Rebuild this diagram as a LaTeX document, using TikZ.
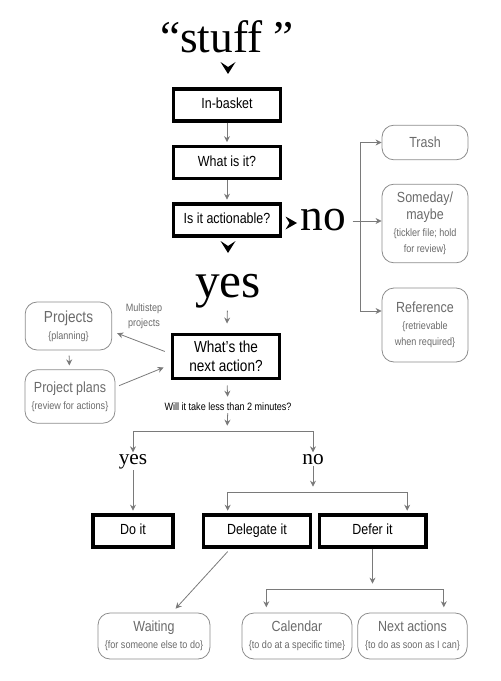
\documentclass[tikz,border=0pt]{standalone}
\usepackage{fontspec}
\setmainfont[FakeStretch=0.85]{Liberation Sans}
\newfontfamily\bigserif{Liberation Serif}
\usetikzlibrary{arrows.meta}
\definecolor{boxgray}{HTML}{8C8C8C}
\definecolor{textgray}{HTML}{6A6A6A}
\definecolor{linegray}{HTML}{7A7A7A}
\newcommand{\subnote}[1]{{\fontsize{8}{12.5}\selectfont #1}}
\tikzset{
  actbox/.style={draw=black, line width=2.5pt, minimum width=80pt, minimum height=24pt, align=center, font=\fontsize{11}{13}\selectfont},
  onebox/.style={actbox, text height=8pt, text depth=2.3pt},
  listbox/.style={draw=boxgray, line width=0.6pt, rounded corners=9pt, text=textgray, align=center, inner sep=2pt, minimum width=64.5pt, font=\fontsize{11}{12.5}\selectfont},
  link/.style={draw=linegray, line width=0.6pt, -{Stealth[length=4.5pt,width=4.5pt]}},
  bigword/.style={font=\bigserif\fontsize{34}{34}\selectfont, anchor=base, inner sep=0pt},
  midword/.style={font=\bigserif\fontsize{16}{16}\selectfont, anchor=base, inner sep=1pt},
  chevdown/.pic={\fill (-7.5,-6) -- (0,6) -- (7.5,-6) -- (0,-1) -- cycle;},
  chevright/.pic={\fill (-5.5,-6.5) -- (6,0) -- (-5.5,6.5) -- (-1.5,0) -- cycle;}
}
\begin{document}
\begin{tikzpicture}[x=0.75pt,y=-0.75pt]
  \useasboundingbox (0,0) rectangle (500,681);
  % 
  \node[bigword] (stuff) at (227,53) {“stuff ”};
  \pic at (228,68) {chevdown};
  \node[onebox] (inbasket) at (227,105) {In-basket};
  \node[onebox] (whatis) at (227,162.5) {What is it?};
  \node[onebox] (actionable) at (227,220) {Is it actionable?};
  \pic at (291,223) {chevright};
  \node[bigword] (no) at (323,230) {no};
  \pic at (228,247) {chevdown};
  \node[bigword, font=\bigserif\fontsize{37}{37}\selectfont] (yes) at (228,297) {yes};
  \node[actbox, minimum height=33pt, font=\fontsize{12}{14}\selectfont] (nextaction) at (226,356.5) {What’s the\\next action?};
  \node[anchor=base, inner sep=1pt, font=\fontsize{8}{10}\selectfont] (question) at (228,410) {Will it take less than 2 minutes?};

  \node[listbox, minimum height=26pt] (trash) at (425,142.5) {Trash};
  \node[listbox, minimum height=59pt] (someday) at (425,223.5) {Someday/\\maybe\\\subnote{\{tickler file; hold}\\\subnote{for review\}}};
  \node[listbox, minimum height=55.5pt] (reference) at (425,325) {Reference\\\subnote{\{retrievable}\\\subnote{when required\}}};

  \node[listbox, minimum width=65pt, minimum height=36pt, font=\fontsize{12}{13}\selectfont] (projects) at (68.5,326) {Projects\\\subnote{\{planning\}}};
  \node[listbox, minimum width=67.5pt, minimum height=40pt] (plans) at (70,396.5) {Project plans\\\subnote{\{review for actions\}}};
  \node[text=textgray, align=center, font=\fontsize{8}{11}\selectfont] (multistep) at (144,316) {Multistep\\projects};

  \node[midword] (yes2) at (133,464) {yes};
  \node[midword] (no2) at (313,464) {no};
  \node[onebox, minimum width=60pt] (doit) at (133,531) {Do it};
  \node[onebox] (delegate) at (257,531) {Delegate it};
  \node[onebox] (defer) at (372.5,531) {Defer it};

  \node[listbox, minimum width=84pt, minimum height=34.5pt] (waiting) at (154,636) {Waiting\\\subnote{\{for someone else to do\}}};
  \node[listbox, minimum width=82.5pt, minimum height=34.5pt] (calendar) at (297,636) {Calendar\\\subnote{\{to do at a specific time\}}};
  \node[listbox, minimum width=82pt, minimum height=34.5pt] (nextactions) at (412.5,636) {Next actions\\\subnote{\{to do as soon as I can\}}};

  \coordinate (nosplit) at (360,221);
  \coordinate (qsplit) at (227,431);
  \coordinate (nsplit) at (313,492);
  \coordinate (dsplit) at (372.5,589);

  \draw[link, shorten >=2pt] (inbasket) -- (whatis);
  \draw[link, shorten >=2pt] (whatis) -- (actionable);
  \draw[link, shorten <=5pt] (no.east |- nosplit) -- (nosplit -| someday.west);
  \draw[link] (nosplit) |- (trash.west);
  \draw[link] (nosplit) |- ([yshift=10.5pt]reference.west);
  \draw[link, shorten <=2pt, shorten >=7pt] (yes) -- (nextaction);
  \draw[link, shorten <=4pt, shorten >=3pt] (nextaction) -- (question);
  \draw[link, shorten <=5pt, shorten >=4pt] ([yshift=2pt]nextaction.west) -- ([yshift=-4pt]projects.east);
  \draw[link, shorten <=3pt, shorten >=6pt] ([yshift=7pt]plans.east) -- ([yshift=-6pt]nextaction.west);
  \draw[link, shorten <=4pt, shorten >=3pt] (projects) -- (plans);
  \draw[link, shorten <=1pt, shorten >=4pt] (question) -- (qsplit);
  \draw[link] (qsplit) -| (yes2);
  \draw[link] (qsplit) -| (no2);
  \draw[link, shorten >=2pt] (yes2) -- (doit);
  \draw[link, shorten >=4pt] (no2) -- (nsplit);
  \draw[link, shorten >=2pt] (nsplit) -| ([xshift=-22pt]delegate.north);
  \draw[link, shorten >=2pt] (nsplit) -| ([xshift=26pt]defer.north);
  \draw[link, shorten <=3pt, shorten >=4pt] ([xshift=-20pt]delegate.south) -- ([xshift=13.5pt]waiting.north);
  \draw[link, shorten >=4pt] (defer) -- (dsplit);
  \draw[link, shorten >=4pt] (dsplit) -| ([xshift=-23pt]calendar.north);
  \draw[link, shorten >=4pt] (dsplit) -| ([xshift=23.5pt]nextactions.north);
\end{tikzpicture}
\end{document}
